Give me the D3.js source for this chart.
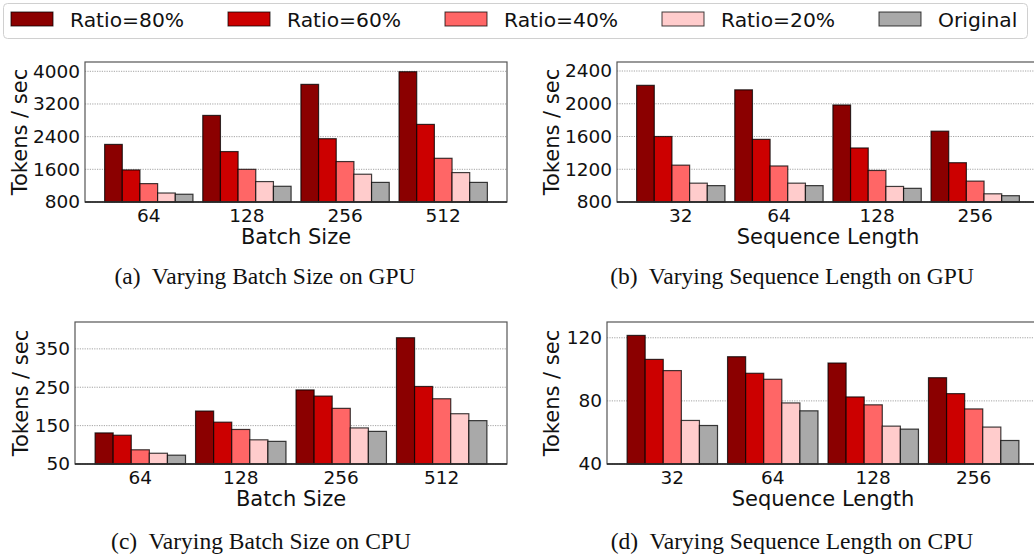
<!DOCTYPE html>
<html>
<head>
<meta charset="utf-8">
<script src="https://cdn.jsdelivr.net/npm/d3@7"></script>
<style>
  html, body { margin: 0; padding: 0; background: #fff; }
  svg { display: block; }
</style>
</head>
<body>
<svg id="chart" width="1034" height="554"></svg>
<script>
// ---------- data ----------
const seriesNames = ["Ratio=80%", "Ratio=60%", "Ratio=40%", "Ratio=20%", "Original"];
const seriesColors = ["#8b0000", "#cc0000", "#ff6666", "#ffcccc", "#a9a9a9"];

const batchSizes = ["64", "128", "256", "512"];
const seqLengths = ["32", "64", "128", "256"];

// (a) GPU, batch size
const gpuBatch80 = [2210, 2920, 3680, 3990];
const gpuBatch60 = [1585, 2035, 2350, 2700];
const gpuBatch40 = [1250, 1600, 1790, 1870];
const gpuBatch20 = [1020, 1300, 1480, 1520];
const gpuBatchOrig = [990, 1185, 1280, 1280];
const gpuBatchTicks = [800, 1600, 2400, 3200, 4000];

// (b) GPU, sequence length
const gpuSeq80 = [2225, 2170, 1985, 1665];
const gpuSeq60 = [1600, 1565, 1460, 1280];
const gpuSeq40 = [1250, 1240, 1185, 1055];
const gpuSeq20 = [1030, 1030, 990, 900];
const gpuSeqOrig = [1000, 1000, 967, 877];
const gpuSeqTicks = [800, 1200, 1600, 2000, 2400];

// (c) CPU, batch size
const cpuBatch80 = [131, 188, 243, 379];
const cpuBatch60 = [125, 159, 227, 252];
const cpuBatch40 = [87, 140, 195, 220];
const cpuBatch20 = [78, 113, 144, 181];
const cpuBatchOrig = [73, 109, 135, 163];
const cpuBatchTicks = [50, 150, 250, 350];

// (d) CPU, sequence length
const cpuSeq80 = [121.5, 108, 104, 94.7];
const cpuSeq60 = [106.3, 97.5, 82.5, 84.6];
const cpuSeq40 = [99.2, 93.7, 77.5, 74.9];
const cpuSeq20 = [67.6, 78.7, 64, 63.4];
const cpuSeqOrig = [64.4, 73.7, 62.1, 54.9];
const cpuSeqTicks = [40, 80, 120];

const captions = [
  "(a)  Varying Batch Size on GPU",
  "(b)  Varying Sequence Length on GPU",
  "(c)  Varying Batch Size on CPU",
  "(d)  Varying Sequence Length on CPU"
];

// ---------- layout ----------
const panels = [
  { cats: batchSizes, series: [gpuBatch80, gpuBatch60, gpuBatch40, gpuBatch20, gpuBatchOrig],
    ticks: gpuBatchTicks, ydom: [800, 4228], xlabel: "Batch Size",
    left: 85, right: 507, top: 62, bottom: 202, ylabX: 27, caption: captions[0], capX: 265, capY: 284 },
  { cats: seqLengths, series: [gpuSeq80, gpuSeq60, gpuSeq40, gpuSeq20, gpuSeqOrig],
    ticks: gpuSeqTicks, ydom: [800, 2510], xlabel: "Sequence Length",
    left: 617, right: 1039, top: 62, bottom: 202, ylabX: 559, caption: captions[1], capX: 792, capY: 284 },
  { cats: batchSizes, series: [cpuBatch80, cpuBatch60, cpuBatch40, cpuBatch20, cpuBatchOrig],
    ticks: cpuBatchTicks, ydom: [50, 420], xlabel: "Batch Size",
    left: 75, right: 507, top: 322, bottom: 464, ylabX: 28, caption: captions[2], capX: 261, capY: 549 },
  { cats: seqLengths, series: [cpuSeq80, cpuSeq60, cpuSeq40, cpuSeq20, cpuSeqOrig],
    ticks: cpuSeqTicks, ydom: [40, 130], xlabel: "Sequence Length",
    left: 607, right: 1039, top: 322, bottom: 464, ylabX: 559, caption: captions[3], capX: 792, capY: 549 }
];

const svg = d3.select("#chart");
const sans = "'DejaVu Sans', sans-serif";
const serif = "'Liberation Serif', 'Times New Roman', serif";

panels.forEach(p => {
  const g = svg.append("g");
  const x = d3.scaleBand().domain(p.cats).range([p.left, p.right]).paddingInner(0.1).paddingOuter(0.2);
  const xs = d3.scaleBand().domain(seriesNames).range([0, x.bandwidth()]);
  const y = d3.scaleLinear().domain(p.ydom).range([p.bottom, p.top]);

  // grid
  g.selectAll("line.grid").data(p.ticks).join("line")
    .attr("x1", p.left).attr("x2", p.right)
    .attr("y1", d => y(d)).attr("y2", d => y(d))
    .attr("stroke", "#9a9a9a").attr("stroke-width", 0.9)
    .attr("stroke-dasharray", "1.2,1.2");

  // bars
  seriesNames.forEach((s, si) => {
    g.selectAll(null).data(p.series[si]).join("rect")
      .attr("x", (d, i) => x(p.cats[i]) + xs(s))
      .attr("width", xs.bandwidth())
      .attr("y", d => y(d))
      .attr("height", d => y(p.ydom[0]) - y(d))
      .attr("fill", seriesColors[si])
      .attr("stroke", "#000").attr("stroke-opacity", 0.75).attr("stroke-width", 1.2);
  });

  // frame
  g.append("rect").attr("x", p.left).attr("y", p.top)
    .attr("width", p.right - p.left).attr("height", p.bottom - p.top)
    .attr("fill", "none").attr("stroke", "#555").attr("stroke-width", 1.2);
  g.append("line").attr("x1", p.left).attr("x2", p.right)
    .attr("y1", p.bottom).attr("y2", p.bottom)
    .attr("stroke", "#222").attr("stroke-width", 1.3);

  // y axis
  const ya = d3.axisLeft(y).tickValues(p.ticks).tickSize(0).tickPadding(5).tickFormat(d3.format("d"));
  const yg = g.append("g").attr("transform", `translate(${p.left},0)`).call(ya);
  yg.select(".domain").remove();
  yg.selectAll("text").attr("font-family", sans).attr("font-size", 18.5).attr("fill", "#111");

  // x axis
  const xa = d3.axisBottom(x).tickSize(0).tickPadding(7);
  const xg = g.append("g").attr("transform", `translate(0,${p.bottom})`).call(xa);
  xg.select(".domain").remove();
  xg.selectAll("text").attr("font-family", sans).attr("font-size", 18.5).attr("fill", "#111");

  // axis labels
  g.append("text").attr("x", (p.left + p.right) / 2).attr("y", p.bottom + 42)
    .attr("text-anchor", "middle").attr("font-family", sans).attr("font-size", 21)
    .attr("fill", "#111").text(p.xlabel);
  g.append("text")
    .attr("transform", `translate(${p.ylabX},${(p.top + p.bottom) / 2}) rotate(-90)`)
    .attr("text-anchor", "middle").attr("font-family", sans).attr("font-size", 21)
    .attr("fill", "#111").text("Tokens / sec");

  // caption
  svg.append("text").attr("x", p.capX).attr("y", p.capY)
    .attr("text-anchor", "middle").attr("font-family", serif).attr("font-size", 23.5)
    .attr("fill", "#111").attr("xml:space", "preserve").style("white-space", "pre")
    .text(p.caption);
});

// legend
const leg = svg.append("g");
leg.append("rect").attr("x", 3.5).attr("y", 3.5).attr("width", 1024).attr("height", 35)
  .attr("rx", 4).attr("fill", "#fff").attr("stroke", "#d0d0d0").attr("stroke-width", 1);
const legX = d3.scaleLinear().domain([0, 4]).range([11, 879]);
seriesNames.forEach((s, i) => {
  leg.append("rect").attr("x", legX(i)).attr("y", 12).attr("width", 42).attr("height", 14)
    .attr("fill", seriesColors[i]).attr("stroke", "#000").attr("stroke-opacity", 0.75).attr("stroke-width", 1);
  leg.append("text").attr("x", legX(i) + 59).attr("y", 27)
    .attr("font-family", sans).attr("font-size", 20.3).attr("fill", "#111").text(s);
});
</script>
</body>
</html>
